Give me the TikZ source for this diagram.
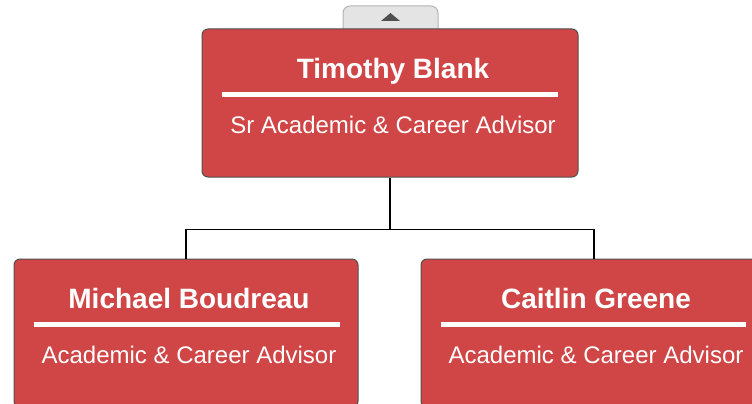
\documentclass[tikz,border=0pt]{standalone}
\usepackage{fontspec}
\setmainfont{Liberation Sans}
\usetikzlibrary{positioning}
\definecolor{cardred}{RGB}{208,69,69}
\definecolor{cardedge}{RGB}{80,80,80}
\definecolor{tabgray}{RGB}{228,228,228}
\definecolor{tabedge}{RGB}{180,180,180}

\begin{document}
\begin{tikzpicture}[x=1pt,y=-1pt,
    card/.style={draw=cardedge, line width=1pt, fill=cardred, rounded corners=6pt,
                 minimum width=#1, minimum height=148pt, inner sep=0pt},
    person/.style={text=white, anchor=base, font=\fontsize{28}{32}\selectfont\bfseries},
    role/.style={text=white, anchor=base, font=\fontsize{24}{28}\selectfont},
    rule/.style={white, line width=5.5pt},
    link/.style={black, line width=1.8pt}]
    \clip (0,0) rectangle (752,404);

    % collapse tab above the head card
    \draw[tabedge, fill=tabgray, line width=1pt, rounded corners=7pt]
        (343,34) -- (343,6) -- (438,6) -- (438,34);
    \fill[cardedge] (381,21) -- (400,21) -- (390.5,13) -- cycle;

    % cards
    \node[card=376pt] (timothy) at (390,103) {};
    \node[card=344pt] (michael) at (186,333) {};
    \node[card=346pt] (caitlin) at (594,333) {};

    % head
    \node[person] (timothyname) at ([xshift=3pt,yshift=-50pt]timothy.north) {Timothy Blank};
    \draw[rule] ([xshift=20pt,yshift=-66pt]timothy.north west) -- ([xshift=-21pt,yshift=-66pt]timothy.north east);
    \node[role] (timothyrole) at ([xshift=3pt,yshift=-105pt]timothy.north) {Sr Academic \& Career Advisor};

    % left
    \node[person] (michaelname) at ([xshift=3pt,yshift=-50pt]michael.north) {Michael Boudreau};
    \draw[rule] ([xshift=20pt,yshift=-66pt]michael.north west) -- ([xshift=-19pt,yshift=-66pt]michael.north east);
    \node[role] (michaelrole) at ([xshift=3pt,yshift=-105pt]michael.north) {Academic \& Career Advisor};

    % right
    \node[person] (caitlinname) at ([xshift=2pt,yshift=-50pt]caitlin.north) {Caitlin Greene};
    \draw[rule] ([xshift=20pt,yshift=-66pt]caitlin.north west) -- ([xshift=-22pt,yshift=-66pt]caitlin.north east);
    \node[role] (caitlinrole) at ([xshift=2pt,yshift=-105pt]caitlin.north) {Academic \& Career Advisor};

    % connectors
    \coordinate (fork) at ([yshift=-52pt]timothy.south);
    \draw[link] (timothy.south) -- (fork) -| (michael.north);
    \draw[link] (fork) -| (caitlin.north);
\end{tikzpicture}
\end{document}
